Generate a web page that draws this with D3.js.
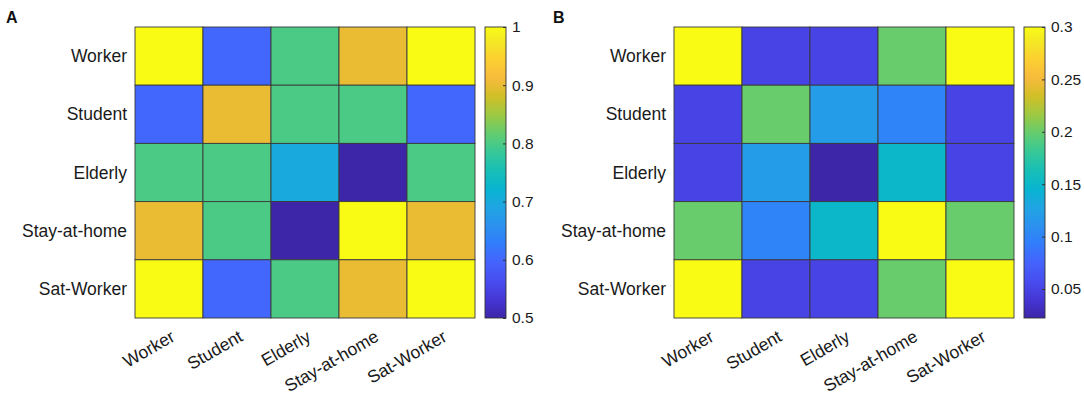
<!DOCTYPE html>
<html>
<head>
<meta charset="utf-8">
<script src="https://cdn.jsdelivr.net/npm/d3@7"></script>
<style>
  body { margin: 0; background: #fff; }
  svg { display: block; font-family: "Liberation Sans", Arial, sans-serif; }
</style>
</head>
<body>
<svg id="chart" width="1084" height="396"></svg>
<script>
// categories (rows top to bottom, columns left to right)
var groups = ["Worker", "Student", "Elderly", "Stay-at-home", "Sat-Worker"];

// panel A values
var valuesA = [
    [1.00, 0.60, 0.80, 0.90, 1.00],
    [0.60, 0.90, 0.80, 0.80, 0.60],
    [0.80, 0.80, 0.70, 0.50, 0.80],
    [0.90, 0.80, 0.50, 1.00, 0.90],
    [1.00, 0.60, 0.80, 0.90, 1.00]
];

// panel B values
var valuesB = [
    [0.300, 0.050, 0.050, 0.200, 0.300],
    [0.050, 0.200, 0.120, 0.100, 0.050],
    [0.050, 0.120, 0.0223, 0.150, 0.050],
    [0.200, 0.100, 0.150, 0.300, 0.200],
    [0.300, 0.050, 0.050, 0.200, 0.300]
];

// colorbar tick labels
var ticksA = [0.5, 0.6, 0.7, 0.8, 0.9, 1];
var ticksB = [0.05, 0.1, 0.15, 0.2, 0.25, 0.3];

// parula colormap (every 4th entry of the 64 level table)
var parula = [
    [0, 0.2422, 0.1504, 0.6603], [4, 0.2706, 0.2147, 0.8364],
    [8, 0.2813, 0.3006, 0.9414], [12, 0.2699, 0.3892, 0.9906],
    [16, 0.1963, 0.4847, 0.9892], [20, 0.1687, 0.5703, 0.9359],
    [24, 0.1248, 0.6459, 0.8883], [28, 0.0297, 0.7082, 0.8163],
    [32, 0.0964, 0.7500, 0.7120], [36, 0.2161, 0.7843, 0.5923],
    [40, 0.3909, 0.8029, 0.4354], [44, 0.6174, 0.7876, 0.2612],
    [48, 0.8203, 0.7498, 0.1535], [52, 0.9728, 0.7298, 0.2394],
    [56, 0.9892, 0.8136, 0.1885], [60, 0.9597, 0.9135, 0.1423],
    [63, 0.9769, 0.9839, 0.0805]
];

var svg = d3.select("#chart");

var settings = {
    top : 27,
    height : 291,
    width : 340,
    cbarGap : 10,
    cbarWidth : 21,
    fontSize : 17.5,
    cbarFontSize : 15.5,
    gridColor : "#3a3a3a"
};

// colour scale on [0,1]
var parulaScale = d3.scaleLinear()
    .domain(parula.map(function(d){ return d[0] / 63; }))
    .range(parula.map(function(d){ return d3.rgb(d[1] * 255, d[2] * 255, d[3] * 255); }))
    .interpolate(d3.interpolateRgb)
    .clamp(true);

function drawPanel(id, letter, letterX, left, values, domain, ticks){

    var g = svg.append("g").attr("id", "panel" + id);

    var x = d3.scaleBand().domain(groups).range([left, left + settings.width]);
    var y = d3.scaleBand().domain(groups).range([settings.top, settings.top + settings.height]);
    var norm = d3.scaleLinear().domain(domain).range([0, 1]).clamp(true);

    // cells
    var cells = [];
    values.forEach(function(row, i){
        row.forEach(function(v, j){
            cells.push({ r : groups[i], c : groups[j], v : v });
        });
    });

    g.selectAll("rect.cell")
        .data(cells)
        .enter()
        .append("rect")
        .attr("class", "cell")
        .attr("x", function(d){ return x(d.c); })
        .attr("y", function(d){ return y(d.r); })
        .attr("width", x.bandwidth())
        .attr("height", y.bandwidth())
        .attr("fill", function(d){ return parulaScale(norm(d.v)); })
        .attr("stroke", settings.gridColor)
        .attr("stroke-width", 0.9);

    // row labels
    g.selectAll("text.ylab")
        .data(groups)
        .enter()
        .append("text")
        .attr("class", "ylab")
        .attr("x", left - 8)
        .attr("y", function(d){ return y(d) + y.bandwidth() / 2; })
        .attr("dy", "0.35em")
        .attr("text-anchor", "end")
        .attr("font-size", settings.fontSize)
        .attr("fill", "#1a1a1a")
        .text(function(d){ return d; });

    // column labels, rotated
    g.selectAll("text.xlab")
        .data(groups)
        .enter()
        .append("text")
        .attr("class", "xlab")
        .attr("transform", function(d){
            return "translate(" + (x(d) + x.bandwidth() / 2 + 7) + "," + (settings.top + settings.height + 22) + ") rotate(-30)";
        })
        .attr("text-anchor", "end")
        .attr("font-size", settings.fontSize)
        .attr("fill", "#1a1a1a")
        .text(function(d){ return d; });

    // colorbar
    var cx = left + settings.width + settings.cbarGap;
    var cScale = d3.scaleLinear().domain(domain).range([settings.top + settings.height, settings.top]);

    var grad = svg.append("defs").append("linearGradient")
        .attr("id", "grad" + id)
        .attr("x1", 0).attr("y1", 1).attr("x2", 0).attr("y2", 0);
    grad.selectAll("stop")
        .data(d3.range(0, 1.0001, 1 / 64))
        .enter()
        .append("stop")
        .attr("offset", function(d){ return d; })
        .attr("stop-color", function(d){ return parulaScale(d); });

    g.append("rect")
        .attr("x", cx)
        .attr("y", settings.top)
        .attr("width", settings.cbarWidth)
        .attr("height", settings.height)
        .attr("fill", "url(#grad" + id + ")")
        .attr("stroke", "#333")
        .attr("stroke-width", 0.9);

    var axis = d3.axisRight(cScale)
        .tickValues(ticks)
        .tickSize(3)
        .tickPadding(6)
        .tickFormat(function(d){ return String(+d.toFixed(2)); });

    var ag = g.append("g")
        .attr("transform", "translate(" + (cx + settings.cbarWidth - 3) + ",0)")
        .call(axis);
    ag.select(".domain").remove();
    ag.selectAll(".tick line").attr("stroke", "#333");
    ag.selectAll(".tick text")
        .attr("font-size", settings.cbarFontSize)
        .attr("font-family", "Liberation Sans, Arial, sans-serif")
        .attr("fill", "#1a1a1a");

    // panel letter
    svg.append("text")
        .attr("x", letterX)
        .attr("y", 23)
        .attr("font-size", 16)
        .attr("font-weight", "bold")
        .attr("fill", "#111")
        .text(letter);
}

drawPanel("A", "A", 6, 135, valuesA, [0.5, 1], ticksA);
drawPanel("B", "B", 553, 674, valuesB, [d3.min(valuesB, function(r){ return d3.min(r); }), 0.3], ticksB);
</script>
</body>
</html>
